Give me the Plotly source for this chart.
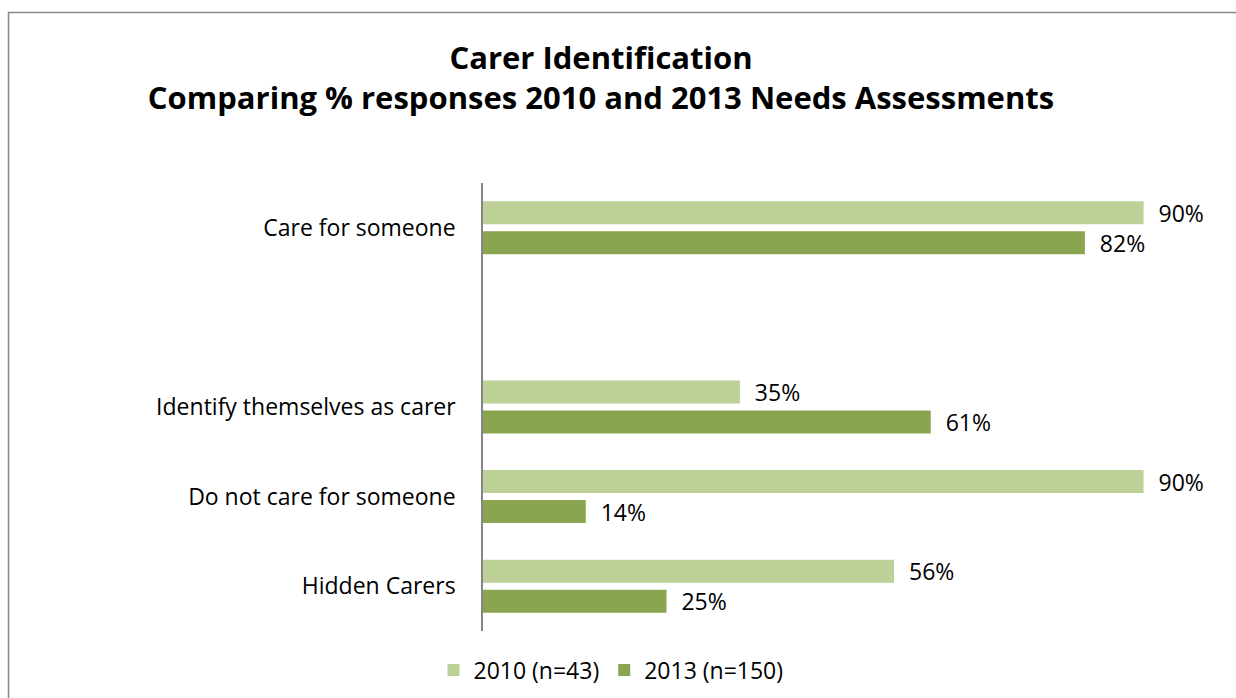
import plotly.graph_objects as go

categories = ["Care for someone", " ", "Identify themselves as carer", "Do not care for someone", "Hidden Carers"]
values_2010 = [90, None, 35, 90, 56]
values_2013 = [82, None, 61, 14, 25]
series_names = ["2010 (n=43)", "2013 (n=150)"]
colors = ["#bcd097", "#8aa54f"]

FONT = "Open Sans"
FS = 23

fig = go.Figure()
for name, vals, col in zip(series_names, [values_2010, values_2013], colors):
    fig.add_trace(go.Bar(
        y=categories, x=vals, name=name, orientation="h",
        marker=dict(color=col, line=dict(width=0)),
        text=[f"{v}%" if v is not None else "" for v in vals],
        texttemplate="  %{text}",
        textposition="outside", cliponaxis=False, constraintext="none",
        textfont=dict(family=FONT, size=FS, color="#000000"),
    ))

L, R, T, B = 483, 1236 - 1217, 183, 698 - 631
W, H = 1236, 698
pw, ph = W - L - R, H - T - B

fig.update_layout(
    width=W, height=H,
    margin=dict(l=L, r=R, t=T, b=B),
    paper_bgcolor="white", plot_bgcolor="white",
    barmode="group", bargap=0.33, bargroupgap=0.233,
    font=dict(family=FONT, size=FS, color="#000000"),
    title=dict(
        text="Carer Identification<br>Comparing % responses 2010 and 2013 Needs Assessments",
        x=601 / W, xref="container", xanchor="center",
        y=1 - 69 / H, yref="container", yanchor="top",
        font=dict(family=FONT, size=31, color="#000000", weight="bold"),
    ),
    xaxis=dict(range=[0, 100], visible=False, showgrid=False, zeroline=False),
    yaxis=dict(
        autorange="reversed", showgrid=False, zeroline=False,
        showline=True, linecolor="#868686", linewidth=1.5,
        ticks="", ticklabelstandoff=21,
        tickfont=dict(family=FONT, size=FS, color="#000000"),
    ),
    legend=dict(
        orientation="h", xref="container", yref="container",
        x=611 / W, xanchor="center", y=1 - 670 / H, yanchor="middle",
        font=dict(family=FONT, size=FS, color="#000000"),
        itemwidth=30, traceorder="normal",
    ),
    showlegend=True,
)

fig.add_shape(
    type="rect", xref="paper", yref="paper",
    x0=(8.5 - L) / pw, x1=(1245 - L) / pw,
    y0=(H - B - 710) / ph, y1=(H - B - 12.5) / ph,
    line=dict(color="#878787", width=1.5), fillcolor="rgba(0,0,0,0)",
    layer="above",
)

fig.write_html("out.html")
